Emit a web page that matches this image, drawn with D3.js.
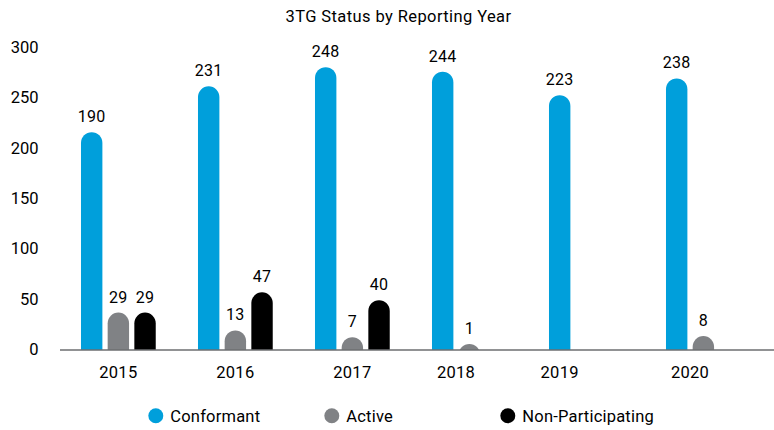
<!DOCTYPE html>
<html>
<head>
<meta charset="utf-8">
<script src="https://cdn.jsdelivr.net/npm/d3@7"></script>
<style>
  html, body { margin: 0; padding: 0; background: #fff; }
  svg { display: block; font-family: Roboto, "Noto Sans", sans-serif; }
</style>
</head>
<body>
<svg id="chart" width="774" height="430"></svg>
<script>
// ---- data ----
const years = ["2015", "2016", "2017", "2018", "2019", "2020"];
const seriesNames = ["Conformant", "Active", "Non-Participating"];
const conformant = [190, 231, 248, 244, 223, 238];
const active = [29, 13, 7, 1, null, 8];
const nonParticipating = [29, 47, 40, null, null, null];
const yTicks = [0, 50, 100, 150, 200, 250, 300];
const colors = ["#009fdb", "#808285", "#000000"];
const title = "3TG Status by Reporting Year";

const seriesValues = [conformant, active, nonParticipating];

const svg = d3.select("#chart");
const W = 774, H = 430;
const baseline = 350;

// axis scale (tick labels)
const yAxis = d3.scaleLinear().domain([0, 300]).range([349, 47]);
// bar scale (bars are drawn a little taller than the axis in the original)
const yBar = d3.scaleLinear().domain([0, 300]).range([baseline - 5, baseline - 5 - 336]);

const x0 = d3.scaleBand().domain(years)
  .range([78.35, 78.35 + 117 * (6 - 0.316)])
  .paddingInner(0.316).paddingOuter(0);
const x1 = d3.scaleBand().domain(seriesNames).range([0, x0.bandwidth()]).padding(0);
const barW = 21.4;
const r = barW / 2;

// title
svg.append("text")
  .attr("x", 398.5).attr("y", 21.5)
  .attr("text-anchor", "middle")
  .attr("font-size", 16.5)
  .attr("letter-spacing", 0.4)
  .attr("fill", "#000")
  .text(title);

// y tick labels
svg.append("g").selectAll("text").data(yTicks).join("text")
  .attr("x", 38.5)
  .attr("y", d => yAxis(d))
  .attr("dy", "0.36em")
  .attr("text-anchor", "end")
  .attr("font-size", 16.5)
  .attr("fill", "#000")
  .text(d => d);

// clip at baseline
svg.append("defs").append("clipPath").attr("id", "clip")
  .append("rect").attr("x", 0).attr("y", 0).attr("width", W).attr("height", baseline);

// bars
const bars = [];
years.forEach((yr, i) => {
  seriesNames.forEach((s, j) => {
    const v = seriesValues[j][i];
    if (v !== null && v !== undefined) {
      bars.push({ year: yr, series: s, value: v, j: j });
    }
  });
});

function barPath(cx, top) {
  const left = cx - r, right = cx + r, bottom = baseline + 20;
  return `M${left},${bottom} L${left},${top + r} A${r},${r} 0 0 1 ${right},${top + r} L${right},${bottom} Z`;
}

const gBars = svg.append("g").attr("clip-path", "url(#clip)");
gBars.selectAll("path").data(bars).join("path")
  .attr("d", d => {
    const cx = x0(d.year) + x1(d.series) + x1.bandwidth() / 2;
    return barPath(cx, yBar(d.value));
  })
  .attr("fill", d => colors[d.j]);

// value labels
svg.append("g").selectAll("text").data(bars).join("text")
  .attr("x", d => x0(d.year) + x1(d.series) + x1.bandwidth() / 2)
  .attr("y", d => yBar(d.value) - 10)
  .attr("text-anchor", "middle")
  .attr("font-size", 16)
  .attr("letter-spacing", 0.3)
  .attr("fill", "#000")
  .text(d => d.value);

// baseline axis line
svg.append("line")
  .attr("x1", 60).attr("x2", W)
  .attr("y1", baseline).attr("y2", baseline)
  .attr("stroke", "#6d6e71").attr("stroke-width", 1.5);

// x labels, centered under the bars present for each year
svg.append("g").selectAll("text").data(years).join("text")
  .attr("x", yr => {
    const cs = bars.filter(b => b.year === yr)
      .map(b => x0(b.year) + x1(b.series) + x1.bandwidth() / 2);
    return (d3.min(cs) + d3.max(cs)) / 2;
  })
  .attr("y", 378)
  .attr("text-anchor", "middle")
  .attr("font-size", 16.5)
  .attr("letter-spacing", 0.3)
  .attr("fill", "#000")
  .text(d => d);

// legend
const legend = svg.append("g");
const lg = legend.selectAll("g").data(seriesNames).join("g")
  .attr("transform", (d, i) => `translate(${155.8 + i * 176},415.7)`);
lg.append("circle").attr("r", 7.5).attr("fill", (d, i) => colors[i]);
lg.append("text").attr("x", 14.5).attr("dy", "0.36em")
  .attr("font-size", 16.5).attr("letter-spacing", 0.2).attr("fill", "#000")
  .text(d => d);
</script>
</body>
</html>
